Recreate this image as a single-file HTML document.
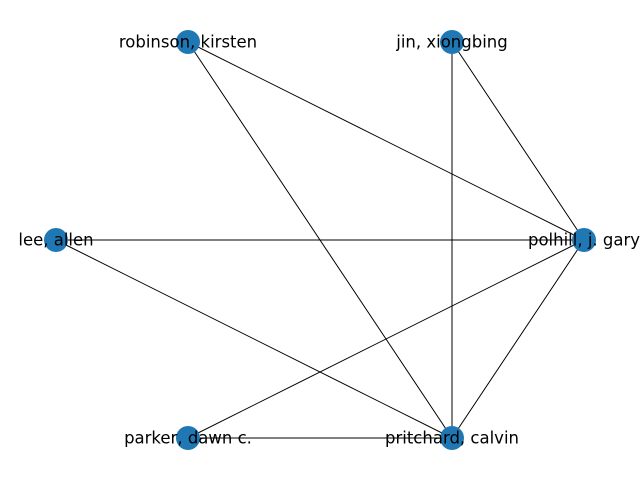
<!DOCTYPE html>
<html><head><style>html,body{margin:0;padding:0;background:#fff}</style></head>
<body>
<svg width="640" height="480" xmlns="http://www.w3.org/2000/svg">
<g stroke="#000" stroke-width="1">
<line x1="188" y1="42" x2="584" y2="240"/>
<line x1="188" y1="42" x2="452" y2="438"/>
<line x1="452" y1="42" x2="584" y2="240"/>
<line x1="452" y1="42" x2="452" y2="438"/>
<line x1="56" y1="240" x2="584" y2="240"/>
<line x1="56" y1="240" x2="452" y2="438"/>
<line x1="584" y1="240" x2="188" y2="438"/>
<line x1="584" y1="240" x2="452" y2="438"/>
<line x1="188" y1="438" x2="452" y2="438"/>
</g>
<g fill="#1f77b4">
<circle cx="188" cy="42" r="12"/>
<circle cx="452" cy="42" r="12"/>
<circle cx="56" cy="240" r="12"/>
<circle cx="584" cy="240" r="12"/>
<circle cx="188" cy="438" r="12"/>
<circle cx="452" cy="438" r="12"/>
</g>
<g font-family="DejaVu Sans, sans-serif" font-size="16.5" text-anchor="middle" dominant-baseline="central" fill="#000">
<text x="188" y="42">robinson, kirsten</text>
<text x="452" y="42">jin, xiongbing</text>
<text x="56" y="240">lee, allen</text>
<text x="584" y="240">polhill, j. gary</text>
<text x="188" y="438">parker, dawn c.</text>
<text x="452" y="438">pritchard, calvin</text>
</g>
</svg>
</body></html>
